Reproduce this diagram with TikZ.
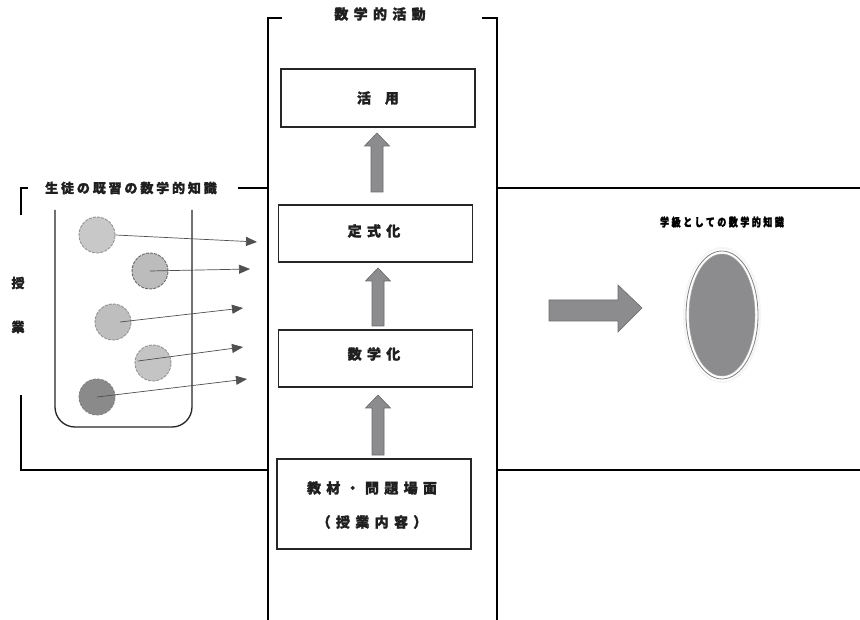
\documentclass[tikz,border=0pt]{standalone}
\usepackage{fontspec}
\usetikzlibrary{arrows.meta}
\newfontfamily\cjk{Noto Sans CJK JP}[BoldFont={Noto Sans CJK JP Black}]
\definecolor{blockgray}{HTML}{8C8C8E}
\definecolor{blockedge}{HTML}{6A6A6C}
\definecolor{ballA}{HTML}{C8C8C8}
\definecolor{ballB}{HTML}{BCBCBC}
\definecolor{ballC}{HTML}{BEBEBE}
\definecolor{ballD}{HTML}{C4C4C4}
\definecolor{ballE}{HTML}{8A8A8A}
\definecolor{linkgray}{HTML}{505050}
\tikzset{
  frame/.style={line width=1.4pt, black},
  stagebox/.style={draw=black!85, line width=1.3pt, fill=white},
  lbl/.style={font=\cjk\bfseries\fontsize{14}{16}\selectfont\addfontfeatures{LetterSpace=38,FakeBold=1.6}, text=black!88, inner sep=0pt},
  sidelbl/.style={font=\cjk\bfseries\fontsize{13}{15}\selectfont\addfontfeatures{LetterSpace=22,FakeBold=1.6}, text=black!88, inner sep=0pt},
  ball/.style={circle, minimum size=36pt, inner sep=0pt, draw=gray!85, dashed, dash pattern=on 3pt off 1.2pt, line width=0.9pt},
  link/.style={linkgray, line width=0.7pt, -{Triangle[length=11pt,width=9pt]}},
  uparrow/.style={fill=blockgray, draw=blockedge, line width=0.6pt},
}
\newcommand{\blockup}[3]{% x, top y, bottom y
  \path[uparrow] (#1-6,#3) -- (#1-6,#2+13) -- (#1-12.5,#2+13) -- (#1,#2) -- (#1+12.5,#2+13) -- (#1+6,#2+13) -- (#1+6,#3) -- cycle;}
\begin{document}
\begin{tikzpicture}[x=1pt,y=-1pt]
\useasboundingbox[fill=white] (0,0) rectangle (860,620);

% central column of mathematical activity
\draw[frame] (282,18) -- (268,18) -- (268,620);
\draw[frame] (482,18) -- (497,18) -- (497,620);
\node[lbl] (title) at (380,14) {数学的活動};

% lesson frame
\draw[frame] (28,188) -- (21,188) -- (21,215);
\draw[frame] (21,395) -- (21,470) -- (268,470);
\draw[frame] (238,188) -- (268,188);
\draw[frame] (497,188) -- (860,188);
\draw[frame] (497,470) -- (860,470);
\node[sidelbl] (prior) at (131,188) {生徒の既習の数学的知識};
\node[sidelbl] (ju) at (18,283) {授};
\node[sidelbl] (gyo) at (18,327) {業};

% stages
\node[stagebox, minimum width=194pt, minimum height=58pt] (use) at (378,98) {};
\node[lbl] at (378,98) {活\hspace{14pt}用};
\node[stagebox, minimum width=194pt, minimum height=57pt] (form) at (375.5,233.5) {};
\node[lbl] at (374,231) {定式化};
\node[stagebox, minimum width=194pt, minimum height=57pt] (math) at (375.5,358.5) {};
\node[lbl] at (374,354) {数学化};
\node[stagebox, minimum width=194pt, minimum height=90pt] (mat) at (374,504) {};
\node[lbl] (mat1) at (372,488) {教材・問題場面};
\node[lbl] (mat2) at (372,522) {（授業内容）};

% block arrows between stages
\blockup{377}{133}{192}
\blockup{378}{268}{326}
\blockup{378}{395}{455}

% beaker holding prior knowledge
\draw[line width=1.3pt, black!85, rounded corners=20pt] (55,210) -- (55,427) -- (192,427) -- (192,210);
\node[ball, fill=ballA] (b1) at (97,235) {};
\node[ball, fill=ballB, draw=gray!120] (b2) at (150,271) {};
\node[ball, fill=ballC] (b3) at (113,322) {};
\node[ball, fill=ballD] (b4) at (153,363) {};
\node[ball, fill=ballE, draw=gray] (b5) at (97,397) {};
\coordinate (e1) at (257,242);
\coordinate (e2) at (250,269);
\coordinate (e3) at (243,308);
\coordinate (e4) at (243,347);
\coordinate (e5) at (247,379);
\draw[link] (b1.east) -- (e1);
\draw[link] (b2.center) -- (e2);
\draw[link] ([xshift=7pt]b3.center) -- (e3);
\draw[link] ([shift={(-15pt,2pt)}]b4.center) -- (e4);
\draw[link] (b5.center) -- (e5);

% transition to class knowledge
\path[fill=blockgray, draw=blockedge, line width=0.6pt]
  (549,300) -- (618,300) -- (618,285) -- (642,308) -- (618,332) -- (618,321) -- (549,321) -- cycle;
\node[font=\cjk\bfseries\fontsize{11.5}{13}\selectfont\addfontfeatures{FakeStretch=0.78,LetterSpace=22,FakeBold=2}, inner sep=0pt] (classlbl) at (722,222) {学級としての数学的知識};
\coordinate (ov) at (722,315);
\fill[black!4] (ov) ellipse (39pt and 68pt);
\fill[white] (ov) ellipse (37pt and 66pt);
\draw[gray, line width=0.8pt] (ov) ellipse (36pt and 64pt);
\fill[blockgray] (ov) ellipse (33pt and 61pt);
\draw[gray!70, line width=0.5pt] (ov) ellipse (33pt and 61pt);
\end{tikzpicture}
\end{document}
